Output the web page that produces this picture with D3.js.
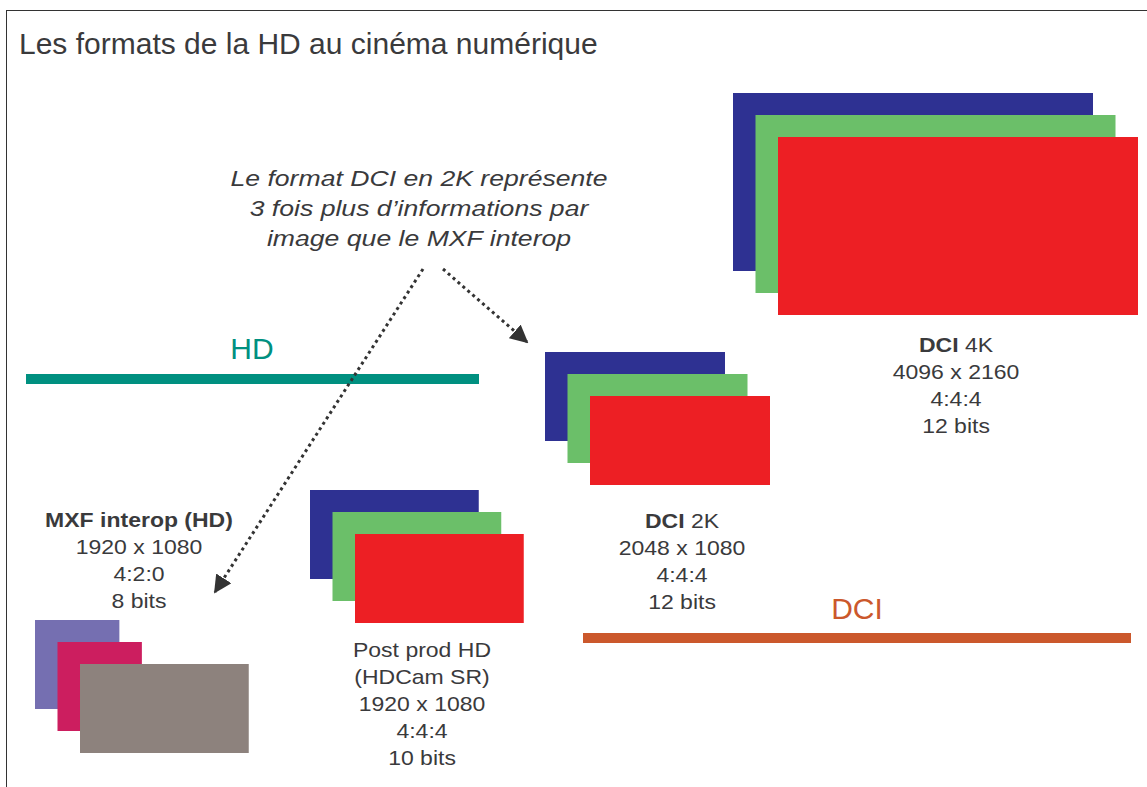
<!DOCTYPE html>
<html>
<head>
<meta charset="utf-8">
<script src="https://cdn.jsdelivr.net/npm/d3@7"></script>
<style>
  body { margin: 0; background: #fff; }
  svg { display: block; font-family: "Liberation Sans", Arial, Helvetica, sans-serif; }
</style>
</head>
<body>
<script>
// formats: back-to-front planes (width x height in pixels of the image)
var formatIds = ["mxf", "post", "dci2k", "dci4k"];
var planeWidths = [
  [960, 960, 1920],
  [1920, 1920, 1920],
  [2048, 2048, 2048],
  [4096, 4096, 4096]
];
var planeHeights = [
  [1080, 1080, 1080],
  [1080, 1080, 1080],
  [1080, 1080, 1080],
  [2160, 2160, 2160]
];
// label lines, first element of each pair is bold
var labelLines = [
  [["MXF interop (HD)", ""], ["", "1920 x 1080"], ["", "4:2:0"], ["", "8 bits"]],
  [["", "Post prod HD"], ["", "(HDCam SR)"], ["", "1920 x 1080"], ["", "4:4:4"], ["", "10 bits"]],
  [["DCI", " 2K"], ["", "2048 x 1080"], ["", "4:4:4"], ["", "12 bits"]],
  [["DCI", " 4K"], ["", "4096 x 2160"], ["", "4:4:4"], ["", "12 bits"]]
];
var groupNames = ["HD", "DCI"];
var noteLines = ["Le format DCI en 2K représente", "3 fois plus d’informations par", "image que le MXF interop"];
var titleText = "Les formats de la HD au cinéma numérique";

// layout (kept apart from the data)
var width = 1147, height = 787;
var origins = [[35, 620], [310, 490], [545, 352], [733, 93]];
var labelPos = [[139, 527], [422, 657], [682, 528], [956, 352]];
var planeColors = [
  ["#756fb1", "#cc1e5f", "#8d827d"],
  ["#2e3192", "#6bbf69", "#ed1f24"],
  ["#2e3192", "#6bbf69", "#ed1f24"],
  ["#2e3192", "#6bbf69", "#ed1f24"]
];
var groupBars = [
  {x1: 26, x2: 479, y: 379, color: "#009080", lx: 252, ly: 359},
  {x1: 583, x2: 1131, y: 638, color: "#cb582c", lx: 857, ly: 619}
];
var arrows = [
  {x1: 423, y1: 269, x2: 215, y2: 592},
  {x1: 443, y1: 269, x2: 527, y2: 342}
];
var textColor = "#3a3a3c";

var svg = d3.select("body").append("svg")
  .attr("width", width)
  .attr("height", height);

var x = d3.scaleLinear().domain([0, 4096]).range([0, 360]);
var y = d3.scaleLinear().domain([0, 2160]).range([0, 178]);
var dx = 22.5, dy = 22;

// frame
svg.append("rect")
  .attr("x", 6.5).attr("y", 10.5)
  .attr("width", width + 20).attr("height", height + 20)
  .attr("fill", "none").attr("stroke", "#333").attr("stroke-width", 1);

svg.append("text")
  .attr("x", 19).attr("y", 54)
  .attr("font-size", 30)
  .attr("fill", textColor)
  .text(titleText);

// plane stacks
formatIds.forEach(function(id, i) {
  var g = svg.append("g").attr("class", "stack " + id)
    .attr("transform", "translate(" + origins[i][0] + "," + origins[i][1] + ")");
  g.selectAll("rect")
    .data(planeWidths[i])
    .enter().append("rect")
      .attr("x", function(d, j) { return j * dx; })
      .attr("y", function(d, j) { return j * dy; })
      .attr("width", function(d) { return x(d); })
      .attr("height", function(d, j) { return y(planeHeights[i][j]); })
      .attr("fill", function(d, j) { return planeColors[i][j]; });

  // the original glyphs are a bit wider than Liberation Sans
  var t = svg.append("text")
    .attr("transform", "translate(" + labelPos[i][0] + "," + labelPos[i][1] + ") scale(1.15,1)")
    .attr("text-anchor", "middle")
    .attr("font-size", 20)
    .attr("fill", textColor);
  labelLines[i].forEach(function(line, k) {
    var first = t.append("tspan")
      .attr("x", 0)
      .attr("y", k * 27);
    if (line[0]) {
      first.attr("font-weight", "bold").text(line[0]);
      if (line[1]) t.append("tspan").text(line[1]);
    } else {
      first.text(line[1]);
    }
  });
});

// group bars
groupBars.forEach(function(b, i) {
  svg.append("line")
    .attr("x1", b.x1).attr("x2", b.x2)
    .attr("y1", b.y).attr("y2", b.y)
    .attr("stroke", b.color).attr("stroke-width", 10);
  svg.append("text")
    .attr("x", b.lx).attr("y", b.ly)
    .attr("text-anchor", "middle")
    .attr("font-size", 30)
    .attr("fill", b.color)
    .text(groupNames[i]);
});

// note
var note = svg.append("text")
  .attr("transform", "translate(419,186) scale(1.21,1)")
  .attr("text-anchor", "middle")
  .attr("font-size", 22)
  .attr("font-style", "italic")
  .attr("fill", textColor);
noteLines.forEach(function(s, k) {
  note.append("tspan").attr("x", 0).attr("y", k * 30).text(s);
});

// dotted arrows
svg.append("defs").append("marker")
  .attr("id", "head")
  .attr("viewBox", "0 0 10 10")
  .attr("refX", 9).attr("refY", 5)
  .attr("markerWidth", 6).attr("markerHeight", 6)
  .attr("markerUnits", "strokeWidth")
  .attr("orient", "auto")
  .append("path")
    .attr("d", "M0,0L10,5L0,10z")
    .attr("fill", "#333");

svg.selectAll(".arrow")
  .data(arrows)
  .enter().append("line")
    .attr("class", "arrow")
    .attr("x1", function(d) { return d.x1; })
    .attr("y1", function(d) { return d.y1; })
    .attr("x2", function(d) { return d.x2; })
    .attr("y2", function(d) { return d.y2; })
    .attr("stroke", "#333")
    .attr("stroke-width", 3)
    .attr("stroke-dasharray", "3,3.5")
    .attr("marker-end", "url(#head)");
</script>
</body>
</html>
